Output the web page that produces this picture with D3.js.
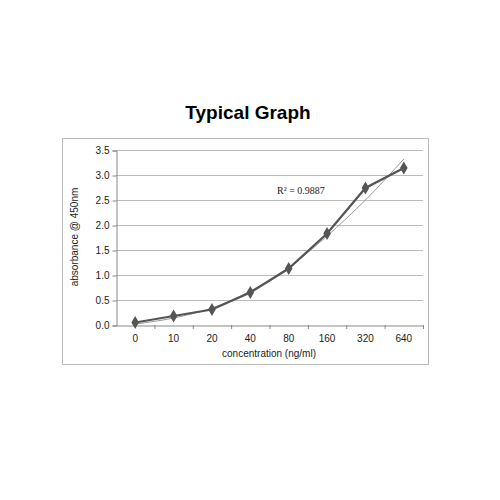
<!DOCTYPE html>
<html><head><meta charset="utf-8">
<script src="https://cdn.jsdelivr.net/npm/d3@7"></script>
<style>body{margin:0;background:#fff}</style></head>
<body><div id="chart"></div>
<script>
const categories = ["0", "10", "20", "40", "80", "160", "320", "640"];
const absorbance = [0.05, 0.18, 0.31, 0.65, 1.13, 1.83, 2.74, 3.14];
const trend = [0.02, 0.14, 0.34, 0.68, 1.15, 1.78, 2.50, 3.32];
const yTicks = [0, 0.5, 1, 1.5, 2, 2.5, 3, 3.5];

const svg = d3.select("#chart").append("svg").attr("width", 500).attr("height", 500);
svg.append("text").attr("x", 248).attr("y", 119).attr("text-anchor", "middle")
    .attr("font-family", "Liberation Sans, Arial").attr("font-weight", "bold")
    .attr("font-size", 19).text("Typical Graph");
svg.append("rect").attr("x", 62.5).attr("y", 138.5).attr("width", 366).attr("height", 226)
    .attr("fill", "none").attr("stroke", "#bbb");

const x = d3.scaleBand().domain(categories).range([116, 423]);
const y = d3.scaleLinear().domain([0, 3.5]).range([325, 150]);
const font = "Liberation Sans, Arial";

// gridlines
svg.append("g").selectAll("line").data(yTicks.slice(1)).join("line")
    .attr("x1", 116).attr("x2", 423).attr("y1", d => y(d) + 0.5).attr("y2", d => y(d) + 0.5)
    .attr("stroke", "#bbb");

const yAxis = svg.append("g").attr("transform", "translate(116.5,0.5)")
    .call(d3.axisLeft(y).tickValues(yTicks).tickFormat(d3.format(".1f")).tickSize(4));
const xAxis = svg.append("g").attr("transform", "translate(0,325.5)")
    .call(d3.axisBottom(x).tickSize(0).tickPadding(9));
// band boundary ticks
svg.append("g").selectAll("line").data(categories).join("line")
    .attr("x1", d => x(d) + x.bandwidth() + 0.5).attr("x2", d => x(d) + x.bandwidth() + 0.5)
    .attr("y1", 325).attr("y2", 329).attr("stroke", "#888");
[yAxis, xAxis].forEach(a => {
  a.selectAll("path,line").attr("stroke", "#888");
  a.selectAll("text").attr("font-family", font).attr("font-size", 10).attr("fill", "#222");
});

const cx = d => x(d) + x.bandwidth() / 2;
svg.append("path").datum(trend)
    .attr("d", d3.line().x((d, i) => cx(categories[i])).y(d => y(d)).curve(d3.curveMonotoneX))
    .attr("fill", "none").attr("stroke", "#999").attr("stroke-width", 1);
svg.append("path").datum(absorbance)
    .attr("d", d3.line().x((d, i) => cx(categories[i])).y(d => y(d)))
    .attr("fill", "none").attr("stroke", "#555").attr("stroke-width", 2.2);
svg.append("g").selectAll("path").data(absorbance).join("path")
    .attr("d", d3.symbol(d3.symbolDiamond, 50))
    .attr("transform", (d, i) => `translate(${cx(categories[i])},${y(d)})`)
    .attr("fill", "#555");

svg.append("text").attr("x", 277).attr("y", 194).attr("font-family", "Liberation Serif, serif")
    .attr("font-size", 10).attr("fill", "#222").text("R² = 0.9887");
svg.append("text").attr("x", 269).attr("y", 357).attr("text-anchor", "middle")
    .attr("font-family", font).attr("font-size", 10).attr("fill", "#222").text("concentration (ng/ml)");
svg.append("text").attr("transform", "translate(78,237) rotate(-90)").attr("text-anchor", "middle")
    .attr("font-family", font).attr("font-size", 10).attr("fill", "#222").text("absorbance @ 450nm");
</script></body></html>
